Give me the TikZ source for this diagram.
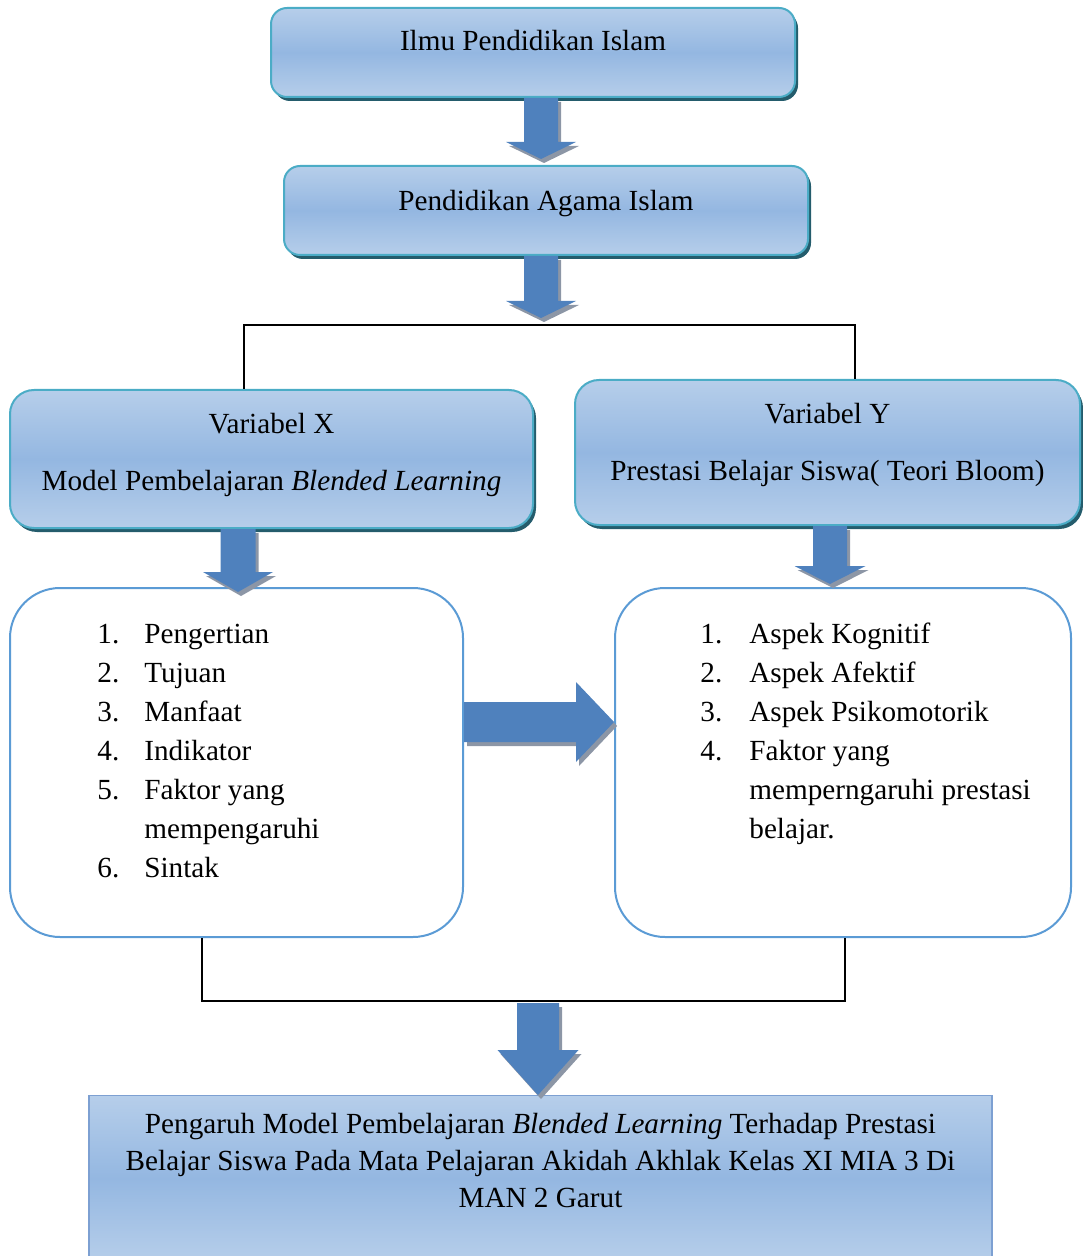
\documentclass[tikz,border=0pt]{standalone}
\usepackage{fontspec}
\setmainfont{Liberation Serif}
\usetikzlibrary{calc,shadows}

\definecolor{boxtop}{RGB}{182,206,234}
\definecolor{boxmid}{RGB}{148,183,225}
\definecolor{tealline}{RGB}{75,172,198}
\definecolor{tealshadow}{RGB}{36,92,108}
\definecolor{arrowblue}{RGB}{79,129,189}
\definecolor{arrowshade}{RGB}{140,150,166}
\definecolor{listline}{RGB}{91,155,213}
\definecolor{hasilline}{RGB}{125,160,210}

\newcommand{\blockdown}[5]{%
	\foreach \col/\dx/\dy in {arrowshade/1.5pt/-2pt,arrowblue/0pt/0pt}{
		\fill[\col] let \p1=(#1), \p2=(#2) in
		(\x1-#3+\dx,\y1+\dy) -- (\x1+#3+\dx,\y1+\dy) -- (\x1+#3+\dx,\y2+#5+\dy)
		-- (\x1+#4+\dx,\y2+#5+\dy) -- (\x1+\dx,\y2+\dy) -- (\x1-#4+\dx,\y2+#5+\dy)
		-- (\x1-#3+\dx,\y2+#5+\dy) -- cycle;
	}}
\newcommand{\blockright}[5]{%
	\foreach \col/\dx/\dy in {arrowshade/1.5pt/-2pt,arrowblue/0pt/0pt}{
		\fill[\col] let \p1=(#1), \p2=(#2) in
		(\x1+\dx,\y1+#3+\dy) -- (\x2-#5+\dx,\y1+#3+\dy) -- (\x2-#5+\dx,\y1+#4+\dy)
		-- (\x2+\dx,\y1+\dy) -- (\x2-#5+\dx,\y1-#4+\dy) -- (\x2-#5+\dx,\y1-#3+\dy)
		-- (\x1+\dx,\y1-#3+\dy) -- cycle;
	}}

\begin{document}
\begin{tikzpicture}[x=0.5pt,y=-0.5pt,font=\fontsize{14.6}{18}\selectfont,
	topbox/.style={draw=tealline,line width=1pt,rounded corners=8pt,
		top color=boxtop,bottom color=boxtop,middle color=boxmid,
		drop shadow={shadow xshift=1.5pt,shadow yshift=-2pt,fill=tealshadow,opacity=1}},
	varbox/.style={topbox,rounded corners=12pt,align=center},
	listbox/.style={draw=listline,line width=1pt,fill=white,rounded corners=25pt},
	itemlist/.style={inner sep=0pt,font=\fontsize{14.6}{19.5}\selectfont},
	hasilbox/.style={draw=hasilline,line width=0.6pt,top color=boxtop,bottom color=boxtop,
		middle color=boxmid,align=center,inner xsep=0pt,inner ysep=9pt,
		font=\fontsize{14.6}{18.5}\selectfont},
	joinline/.style={draw=black,line width=0.75pt}]
	\useasboundingbox (0,0) rectangle (1082,1256);

	\node[topbox,minimum width=262pt,minimum height=44.5pt,text height=10pt,text depth=12pt]
		(ilmu) at (533,52.5) {Ilmu Pendidikan Islam};
	\node[topbox,minimum width=262pt,minimum height=44.5pt,text height=10pt,text depth=10pt]
		(pai) at (546,210.5) {Pendidikan Agama Islam};
	\node[varbox,minimum width=261.5pt,minimum height=69pt] (varx) at (271.5,459)
		{Variabel X\\[10.7pt]Model Pembelajaran \textit{Blended Learning}\rule[-7.3pt]{0pt}{7.3pt}};
	\node[varbox,minimum width=252.5pt,minimum height=72.5pt] (vary) at (827.5,452.5)
		{Variabel Y\\[10.7pt]Prestasi Belajar Siswa( Teori Bloom)\rule[-10.8pt]{0pt}{10.8pt}};
	\node[listbox,minimum width=226.5pt,minimum height=174.5pt] (listx) at (236.5,762.5) {};
	\node[listbox,minimum width=228pt,minimum height=174.5pt] (listy) at (843,762.5) {};
	\node[itemlist,anchor=north west] (itemsx) at (97,616) {%
		\begin{tabular}{@{}p{23.5pt}@{}l@{}}
			1. & Pengertian\\
			2. & Tujuan\\
			3. & Manfaat\\
			4. & Indikator\\
			5. & Faktor yang\\
			   & mempengaruhi\\
			6. & Sintak
		\end{tabular}};
	\node[itemlist,anchor=north west] (itemsy) at (700,616) {%
		\begin{tabular}{@{}p{24.5pt}@{}l@{}}
			1. & Aspek Kognitif\\
			2. & Aspek Afektif\\
			3. & Aspek Psikomotorik\\
			4. & Faktor yang\\
			   & memperngaruhi prestasi\\
			   & belajar.
		\end{tabular}};
	\node[hasilbox,minimum width=451.5pt,anchor=north] (hasil) at (540.5,1095)
		{Pengaruh Model Pembelajaran \textit{Blended Learning} Terhadap Prestasi\\
		Belajar Siswa Pada Mata Pelajaran Akidah Akhlak Kelas XI MIA 3 Di\\
		MAN 2 Garut\rule[-17.5pt]{0pt}{17.5pt}};

	\coordinate (split) at (541,325);
	\coordinate (join) at (538,1001);
	\draw[joinline] ([xshift=-13.75pt]varx.north) |- (split) -| ([xshift=13.75pt]vary.north);
	\draw[joinline] ([xshift=-17.25pt]listx.south) |- (join) -| ([xshift=1pt]listy.south);

	\coordinate (a1) at (ilmu.south -| split);
	\coordinate (a1tip) at ($(pai.north -| split)+(0,3pt)$);
	\coordinate (a2) at (pai.south -| split);
	\coordinate (a2tip) at ($(split)+(0,3.5pt)$);
	\coordinate (ax) at ([xshift=-16.75pt]varx.south);
	\coordinate (axtip) at ($(ax |- listx.north)+(0,-2.5pt)$);
	\coordinate (ay) at ([xshift=1.25pt]vary.south);
	\coordinate (aytip) at ($(ay |- listy.north)+(0,1.5pt)$);
	\coordinate (ar) at ([yshift=20.25pt]listx.east);
	\coordinate (ab) at ($(join)+(0,-1pt)$);
	\coordinate (abtip) at (hasil.north -| join);
	\blockdown{a1}{a1tip}{8.5pt}{17.5pt}{8.5pt}
	\blockdown{a2}{a2tip}{8.5pt}{17.5pt}{8.5pt}
	\blockdown{ax}{axtip}{8.75pt}{17.5pt}{10pt}
	\blockdown{ay}{aytip}{8.5pt}{17.75pt}{9pt}
	\blockright{ar}{listy.west}{10pt}{20pt}{19pt}
	\blockdown{ab}{abtip}{10.5pt}{20.25pt}{22.5pt}
\end{tikzpicture}
\end{document}
